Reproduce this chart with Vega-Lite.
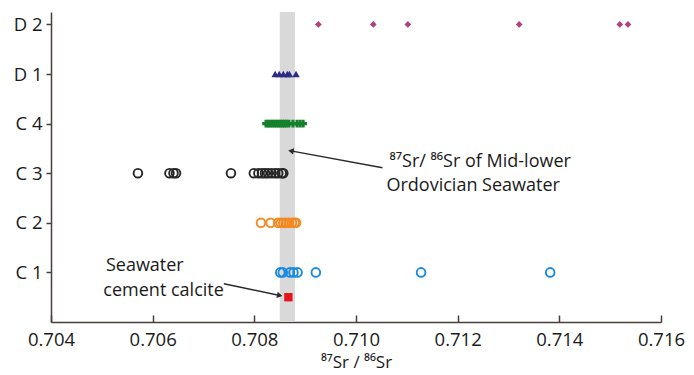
{
  "$schema": "https://vega.github.io/schema/vega-lite/v6.json",
  "width": 610,
  "height": 310,
  "autosize": "none",
  "padding": {"left": 51, "top": 12, "right": 33, "bottom": 53},
  "background": "white",
  "config": {"view": {"stroke": null}, "font": "Open Sans"},
  "datasets": {
    "pts": [
      {"series": "D 2", "level": 6, "sr": 0.70926},
      {"series": "D 2", "level": 6, "sr": 0.71034},
      {"series": "D 2", "level": 6, "sr": 0.71102},
      {"series": "D 2", "level": 6, "sr": 0.71321},
      {"series": "D 2", "level": 6, "sr": 0.71519},
      {"series": "D 2", "level": 6, "sr": 0.71535},
      {"series": "D 1", "level": 5, "sr": 0.70841},
      {"series": "D 1", "level": 5, "sr": 0.70849},
      {"series": "D 1", "level": 5, "sr": 0.70857},
      {"series": "D 1", "level": 5, "sr": 0.70865},
      {"series": "D 1", "level": 5, "sr": 0.70869},
      {"series": "D 1", "level": 5, "sr": 0.70882},
      {"series": "C 4", "level": 4, "sr": 0.70823},
      {"series": "C 4", "level": 4, "sr": 0.70827},
      {"series": "C 4", "level": 4, "sr": 0.70831},
      {"series": "C 4", "level": 4, "sr": 0.70835},
      {"series": "C 4", "level": 4, "sr": 0.70839},
      {"series": "C 4", "level": 4, "sr": 0.70843},
      {"series": "C 4", "level": 4, "sr": 0.70847},
      {"series": "C 4", "level": 4, "sr": 0.70851},
      {"series": "C 4", "level": 4, "sr": 0.70855},
      {"series": "C 4", "level": 4, "sr": 0.70859},
      {"series": "C 4", "level": 4, "sr": 0.70863},
      {"series": "C 4", "level": 4, "sr": 0.70868},
      {"series": "C 4", "level": 4, "sr": 0.70876},
      {"series": "C 4", "level": 4, "sr": 0.70884},
      {"series": "C 4", "level": 4, "sr": 0.70890},
      {"series": "C 4", "level": 4, "sr": 0.70896},
      {"series": "C 3", "level": 3, "sr": 0.70571},
      {"series": "C 3", "level": 3, "sr": 0.70633},
      {"series": "C 3", "level": 3, "sr": 0.70641},
      {"series": "C 3", "level": 3, "sr": 0.70646},
      {"series": "C 3", "level": 3, "sr": 0.70754},
      {"series": "C 3", "level": 3, "sr": 0.70799},
      {"series": "C 3", "level": 3, "sr": 0.70808},
      {"series": "C 3", "level": 3, "sr": 0.70815},
      {"series": "C 3", "level": 3, "sr": 0.70821},
      {"series": "C 3", "level": 3, "sr": 0.70827},
      {"series": "C 3", "level": 3, "sr": 0.70834},
      {"series": "C 3", "level": 3, "sr": 0.70841},
      {"series": "C 3", "level": 3, "sr": 0.70847},
      {"series": "C 3", "level": 3, "sr": 0.70854},
      {"series": "C 3", "level": 3, "sr": 0.70857},
      {"series": "C 2", "level": 2, "sr": 0.70813},
      {"series": "C 2", "level": 2, "sr": 0.70832},
      {"series": "C 2", "level": 2, "sr": 0.70847},
      {"series": "C 2", "level": 2, "sr": 0.70852},
      {"series": "C 2", "level": 2, "sr": 0.70857},
      {"series": "C 2", "level": 2, "sr": 0.70862},
      {"series": "C 2", "level": 2, "sr": 0.70868},
      {"series": "C 2", "level": 2, "sr": 0.70874},
      {"series": "C 2", "level": 2, "sr": 0.70879},
      {"series": "C 2", "level": 2, "sr": 0.70882},
      {"series": "C 1", "level": 1, "sr": 0.70851},
      {"series": "C 1", "level": 1, "sr": 0.70856},
      {"series": "C 1", "level": 1, "sr": 0.70870},
      {"series": "C 1", "level": 1, "sr": 0.70877},
      {"series": "C 1", "level": 1, "sr": 0.70885},
      {"series": "C 1", "level": 1, "sr": 0.70921},
      {"series": "C 1", "level": 1, "sr": 0.71128},
      {"series": "C 1", "level": 1, "sr": 0.71382},
      {"series": "Seawater cement calcite", "level": 0.5, "sr": 0.70867}
    ],
    "band": [{"lo": 0.7085, "hi": 0.7088}],
    "arrows": [
      {"id": "sw", "x1": 0.71052, "y1": 3.11, "x2": 0.70872, "y2": 3.45, "angle": 10.6},
      {"id": "cc", "x1": 0.70740, "y1": 0.77, "x2": 0.70850, "y2": 0.535, "angle": 11.5}
    ],
    "labels": [
      {"sr": 0.70508, "level": 1.125, "text": "Seawater"},
      {"sr": 0.70503, "level": 0.625, "text": "cement calcite"},
      {"sr": 0.71066, "level": 3.23, "text": "⁸⁷Sr/ ⁸⁶Sr of Mid-lower"},
      {"sr": 0.71060, "level": 2.74, "text": "Ordovician Seawater"}
    ]
  },
  "layer": [
    {
      "data": {"name": "band"},
      "mark": {"type": "rect", "color": "#d9d9d9"},
      "encoding": {
        "x": {"field": "lo", "type": "quantitative", "scale": {"domain": [0.704, 0.716]}},
        "x2": {"field": "hi"}
      }
    },
    {
      "data": {"name": "pts"},
      "transform": [{"filter": "datum.series === 'C 3' || datum.series === 'C 2' || datum.series === 'C 1'"}],
      "mark": {"type": "point", "filled": false, "size": 75, "strokeWidth": 1.9, "opacity": 1},
      "encoding": {
        "x": {"field": "sr", "type": "quantitative"},
        "y": {"field": "level", "type": "quantitative"},
        "color": {"field": "series", "type": "nominal", "legend": null,
          "scale": {"domain": ["C 3", "C 2", "C 1"], "range": ["#262626", "#f5891f", "#1a8ae0"]}}
      }
    },
    {
      "data": {"name": "pts"},
      "transform": [{"filter": "datum.series === 'D 2'"}],
      "mark": {"type": "point", "shape": "diamond", "filled": true, "size": 45, "color": "#b23f80", "opacity": 1},
      "encoding": {
        "x": {"field": "sr", "type": "quantitative"},
        "y": {"field": "level", "type": "quantitative"}
      }
    },
    {
      "data": {"name": "pts"},
      "transform": [{"filter": "datum.series === 'D 1'"}],
      "mark": {"type": "point", "shape": "triangle-up", "filled": true, "size": 55, "color": "#2b2a86", "opacity": 1},
      "encoding": {
        "x": {"field": "sr", "type": "quantitative"},
        "y": {"field": "level", "type": "quantitative"}
      }
    },
    {
      "data": {"name": "pts"},
      "transform": [{"filter": "datum.series === 'C 4'"}],
      "mark": {"type": "point", "shape": "cross", "filled": true, "size": 60, "color": "#16802c", "opacity": 1},
      "encoding": {
        "x": {"field": "sr", "type": "quantitative"},
        "y": {"field": "level", "type": "quantitative"}
      }
    },
    {
      "data": {"name": "pts"},
      "transform": [{"filter": "datum.series === 'Seawater cement calcite'"}],
      "mark": {"type": "point", "shape": "square", "filled": true, "size": 70, "color": "#e8141b", "opacity": 1},
      "encoding": {
        "x": {"field": "sr", "type": "quantitative"},
        "y": {"field": "level", "type": "quantitative"}
      }
    },
    {
      "data": {"name": "arrows"},
      "mark": {"type": "rule", "color": "#2a2a2a", "strokeWidth": 1.5},
      "encoding": {
        "x": {"field": "x1", "type": "quantitative"},
        "y": {"field": "y1", "type": "quantitative"},
        "x2": {"field": "x2"},
        "y2": {"field": "y2"}
      }
    },
    {
      "data": {"name": "arrows"},
      "transform": [{"filter": "datum.id === 'sw'"}],
      "mark": {"type": "point", "shape": "triangle-left", "filled": true, "size": 40, "color": "#2a2a2a", "opacity": 1},
      "encoding": {
        "x": {"field": "x2", "type": "quantitative"},
        "y": {"field": "y2", "type": "quantitative"},
        "angle": {"field": "angle", "type": "quantitative", "scale": null}
      }
    },
    {
      "data": {"name": "arrows"},
      "transform": [{"filter": "datum.id === 'cc'"}],
      "mark": {"type": "point", "shape": "triangle-right", "filled": true, "size": 40, "color": "#2a2a2a", "opacity": 1},
      "encoding": {
        "x": {"field": "x2", "type": "quantitative"},
        "y": {"field": "y2", "type": "quantitative"},
        "angle": {"field": "angle", "type": "quantitative", "scale": null}
      }
    },
    {
      "data": {"name": "labels"},
      "mark": {"type": "text", "fontSize": 18, "color": "#1a1a1a", "align": "left", "baseline": "middle"},
      "encoding": {
        "x": {"field": "sr", "type": "quantitative"},
        "y": {"field": "level", "type": "quantitative"},
        "text": {"field": "text"}
      }
    }
  ],
  "resolve": {"scale": {"color": "independent"}},
  "encoding": {
    "x": {
      "type": "quantitative",
      "scale": {"domain": [0.704, 0.716], "nice": false, "zero": false},
      "axis": {
        "title": "⁸⁷Sr / ⁸⁶Sr", "titleFontSize": 17, "titleFontWeight": "normal", "titleColor": "#1a1a1a", "titlePadding": 6,
        "values": [0.704, 0.706, 0.708, 0.71, 0.712, 0.714, 0.716], "format": ".3f",
        "labelFontSize": 18.5, "labelColor": "#1a1a1a", "labelPadding": 15,
        "domainColor": "#4a3d3d", "domainWidth": 1.5, "tickColor": "#4a3d3d", "tickWidth": 1.5, "tickSize": -7,
        "grid": false, "labelFlush": false
      }
    },
    "y": {
      "type": "quantitative",
      "scale": {"domain": [0, 6.25], "nice": false, "zero": false},
      "axis": {
        "title": null, "values": [1, 2, 3, 4, 5, 6],
        "labelExpr": "['', 'C 1', 'C 2', 'C 3', 'C 4', 'D 1', 'D 2'][datum.value]",
        "labelFontSize": 18.5, "labelColor": "#1a1a1a", "labelPadding": 4,
        "domainColor": "#4a3d3d", "domainWidth": 1.5, "tickColor": "#4a3d3d", "tickWidth": 1.5, "tickSize": 5,
        "grid": false
      }
    }
  }
}
